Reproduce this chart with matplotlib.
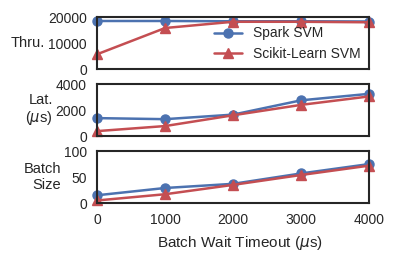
import numpy as np
import matplotlib.pyplot as plt
import seaborn as sns

sns.set_style('white')
plt.rcParams['font.family'] = ['Liberation Sans', 'DejaVu Sans']
plt.rcParams['mathtext.fontset'] = 'dejavusans'

timeouts = [0, 1000, 2000, 3000, 4000]

spark_thru = [18500, 18500, 18400, 18400, 18300]
sklearn_thru = [5700, 15800, 18200, 18200, 18000]

spark_lat = [1380, 1300, 1650, 2750, 3250]
sklearn_lat = [380, 770, 1600, 2400, 3050]

spark_batch = [15, 29, 37, 57, 75]
sklearn_batch = [5, 17, 35, 54, 72]

blue = '#4C72B0'
red = '#C44E52'

fig, axes = plt.subplots(3, 1, figsize=(3.95, 2.59), dpi=100, sharex=True)

panels = [
    (spark_thru, sklearn_thru, 'Thru.', [0, 10000, 20000], (0, 20000)),
    (spark_lat, sklearn_lat, 'Lat.\n($\\mu$s)', [0, 2000, 4000], (0, 4000)),
    (spark_batch, sklearn_batch, 'Batch\nSize', [0, 50, 100], (0, 100)),
]

for ax, (s, k, lab, ticks, lim) in zip(axes, panels):
    ax.plot(timeouts, s, color=blue, marker='o', ms=6.5, lw=1.8, label='Spark SVM')
    ax.plot(timeouts, k, color=red, marker='^', ms=6.5, lw=1.8, label='Scikit-Learn SVM')
    ax.set_ylim(*lim)
    ax.set_yticks(ticks)
    ax.set_xlim(0, 4000)
    ax.set_ylabel(lab, rotation=0, fontsize=10.5, ha='right', va='center',
                  multialignment='right', labelpad=2, color='#262626')
    ax.tick_params(labelsize=10, pad=4, colors='#262626')
    for sp in ax.spines.values():
        sp.set_color('#262626')
        sp.set_linewidth(1.5)
    for ln in ax.lines:
        ln.set_clip_on(False)

axes[2].set_xticks(timeouts)
axes[2].set_xlabel('Batch Wait Timeout ($\\mu$s)', fontsize=11, color='#262626')
axes[2].xaxis.set_label_coords(0.525, -0.6)

leg = axes[0].legend(loc='lower right', fontsize=10, frameon=False, borderaxespad=0.2,
                     handlelength=2, handletextpad=0.8, labelspacing=0.45)

fig.subplots_adjust(left=0.246, right=0.934, top=0.934, bottom=0.216, hspace=0.29)
fig.savefig('out.png', dpi=100)
